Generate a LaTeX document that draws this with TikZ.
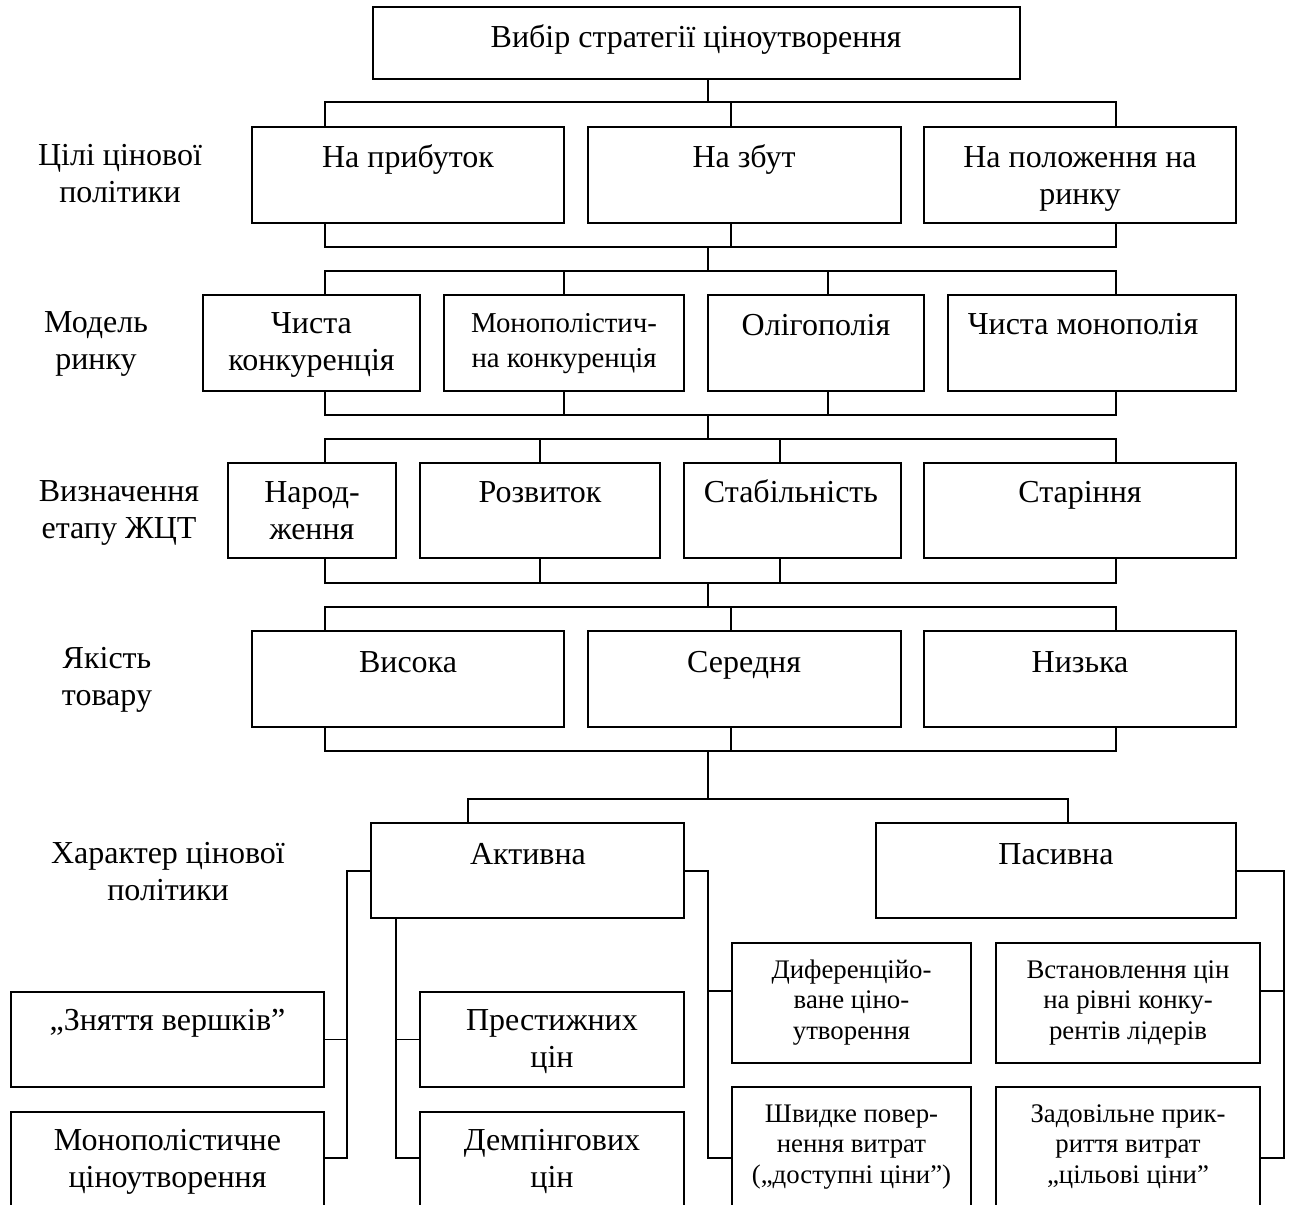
\documentclass[tikz,border=0pt]{standalone}
\usepackage{fontspec}
\setmainfont{Liberation Serif}
\newcommand\mkbox[5]{\node[bx, anchor=north west, minimum width={#4-#2}, minimum height={#5-#3}] (#1) at (#2,-#3) {};}
\tikzset{
  bx/.style={draw, line width=1.8pt, rectangle, inner sep=0pt, outer sep=0pt},
  tx/.style={inner sep=0pt, align=center, anchor=north, font=\fontsize{32}{37.5}\selectfont},
  txm/.style={tx, font=\fontsize{28.8}{35}\selectfont},
  txs/.style={tx, font=\fontsize{26.8}{30.5}\selectfont},
  ln/.style={line width=1.8pt}
}
\begin{document}
\begin{tikzpicture}[x=1pt,y=1pt]
\useasboundingbox (0,0) rectangle (1292,-1204);
% boxes
\mkbox{top}{373}{7}{1020}{79}
\mkbox{g1}{252}{127}{564}{223}
\mkbox{g2}{588}{127}{901}{223}
\mkbox{g3}{924}{127}{1236}{223}
\mkbox{m1}{203}{295}{420}{391}
\mkbox{m2}{444}{295}{684}{391}
\mkbox{m3}{708}{295}{924}{391}
\mkbox{m4}{948}{295}{1236}{391}
\mkbox{s1}{228}{463}{396}{558}
\mkbox{s2}{420}{463}{660}{558}
\mkbox{s3}{684}{463}{901}{558}
\mkbox{s4}{924}{463}{1236}{558}
\mkbox{q1}{252}{631}{564}{727}
\mkbox{q2}{588}{631}{901}{727}
\mkbox{q3}{924}{631}{1236}{727}
\mkbox{act}{371}{823}{684}{918}
\mkbox{pas}{876}{823}{1236}{918}
\mkbox{zn}{11}{992}{324}{1087}
\mkbox{mon}{11}{1112}{324}{1206}
\mkbox{pr}{420}{992}{684}{1087}
\mkbox{dem}{420}{1112}{684}{1206}
\mkbox{dif}{732}{943}{971}{1063}
\mkbox{vst}{996}{943}{1260}{1063}
\mkbox{shv}{732}{1087}{971}{1206}
\mkbox{zad}{996}{1087}{1260}{1206}
% texts
\node[tx] (ttop) at (696,-20.75) {\strut Вибір стратегії ціноутворення};
\node[tx] (tg1) at (408,-140.75) {\strut На прибуток};
\node[tx] (tg2) at (744,-140.75) {\strut На збут};
\node[tx] (tg3) at (1080,-140.75) {\strut На положення на\\ринку};
\node[tx] (tm1) at (311.5,-306.75) {\strut Чиста\\конкуренція};
\node[txm] (tm2) at (564,-307.5) {\strut Монополістич-\\на конкуренція};
\node[tx] (tm3) at (816,-308.75) {\strut Олігополія};
\node[tx] (tm4) at (1083,-307.75) {\strut Чиста монополія};
\node[tx] (ts1) at (312,-475.75) {\strut Народ-\\ження};
\node[tx] (ts2) at (540,-475.75) {\strut Розвиток};
\node[tx] (ts3) at (791,-475.75) {\strut Стабільність};
\node[tx] (ts4) at (1080,-475.75) {\strut Старіння};
\node[tx] (tq1) at (408,-645.75) {\strut Висока};
\node[tx] (tq2) at (744,-645.75) {\strut Середня};
\node[tx] (tq3) at (1080,-645.75) {\strut Низька};
\node[tx] (tact) at (528,-837.75) {\strut Активна};
\node[tx] (tpas) at (1056,-837.75) {\strut Пасивна};
\node[tx] (tzn) at (167.5,-1003.75) {\strut „Зняття вершків”};
\node[tx] (tmon) at (167.5,-1123.75) {\strut Монополістичне\\ціноутворення};
\node[tx] (tpr) at (552,-1003.75) {\strut Престижних\\цін};
\node[tx] (tdem) at (552,-1123.75) {\strut Демпінгових\\цін};
\node[txs] (tdif) at (851.5,-956.65) {\strut Диференційо-\\ване ціно-\\утворення};
\node[txs] (tvst) at (1128,-956.65) {\strut Встановлення цін\\на рівні конку-\\рентів лідерів};
\node[txs] (tshv) at (851.5,-1100.65) {\strut Швидке повер-\\нення витрат\\(„доступні ціни”)};
\node[txs] (tzad) at (1128,-1100.65) {\strut Задовільне прик-\\риття витрат\\„цільові ціни”};
% left labels
\node[tx] (l1) at (120,-138.75) {\strut Цілі цінової\\політики};
\node[tx] (l2) at (96,-305.75) {\strut Модель\\ринку};
\node[tx] (l3) at (119,-474.75) {\strut Визначення\\етапу ЖЦТ};
\node[tx] (l4) at (107,-641.75) {\strut Якість\\товару};
\node[tx] (l5) at (168,-836.75) {\strut Характер цінової\\політики};
% helper coordinates
\coordinate (xA) at (325,0);
\coordinate (xT) at (708,0);
\coordinate (xR) at (1116,0);
\coordinate (xB) at (731,0);
\coordinate (xC) at (564,0);
\coordinate (xD) at (828,0);
\coordinate (xE) at (540,0);
\coordinate (xF) at (780,0);
\coordinate (xG) at (468,0);
\coordinate (xH) at (1068,0);
\coordinate (xI) at (347,0);
\coordinate (xJ) at (396,0);
\coordinate (xK) at (1284,0);
\coordinate (yb) at (0,-871);
\coordinate (yc) at (0,-991);
\coordinate (yq) at (0,-1158);
% level 1
\draw[ln] (top.south -| xT) -- (708,-102);
\draw[ln] (g1.north -| xA) -- (325,-102) -- (1116,-102) -- (g3.north -| xR);
\draw[ln] (g2.north -| xB) -- (731,-102);
\draw[ln] (g1.south -| xA) -- (325,-247) -- (1116,-247) -- (g3.south -| xR);
\draw[ln] (g2.south -| xB) -- (731,-247);
\draw[ln] (708,-247) -- (708,-271);
% level 2
\draw[ln] (m1.north -| xA) -- (325,-271) -- (1116,-271) -- (m4.north -| xR);
\draw[ln] (m2.north -| xC) -- (564,-271);
\draw[ln] (m3.north -| xD) -- (828,-271);
\draw[ln] (m1.south -| xA) -- (325,-415) -- (1116,-415) -- (m4.south -| xR);
\draw[ln] (m2.south -| xC) -- (564,-415);
\draw[ln] (m3.south -| xD) -- (828,-415);
\draw[ln] (708,-415) -- (708,-439);
% level 3
\draw[ln] (s1.north -| xA) -- (325,-439) -- (1116,-439) -- (s4.north -| xR);
\draw[ln] (s2.north -| xE) -- (540,-439);
\draw[ln] (s3.north -| xF) -- (780,-439);
\draw[ln] (s1.south -| xA) -- (325,-583) -- (1116,-583) -- (s4.south -| xR);
\draw[ln] (s2.south -| xE) -- (540,-583);
\draw[ln] (s3.south -| xF) -- (780,-583);
\draw[ln] (708,-583) -- (708,-607);
% level 4
\draw[ln] (q1.north -| xA) -- (325,-607) -- (1116,-607) -- (q3.north -| xR);
\draw[ln] (q2.north -| xB) -- (731,-607);
\draw[ln] (q1.south -| xA) -- (325,-751) -- (1116,-751) -- (q3.south -| xR);
\draw[ln] (q2.south -| xB) -- (731,-751);
\draw[ln] (708,-751) -- (708,-799);
% level 5
\draw[ln] (act.north -| xG) -- (468,-799) -- (1068,-799) -- (pas.north -| xH);
% brackets
\draw[ln] (act.west |- yb) -- (347,-871) -- (347,-1158) -- (mon.east |- yq);
\draw[ln] (347,-1039.5) -- (zn.east);
\draw[ln] (act.south -| xJ) -- (396,-1158) -- (dem.west |- yq);
\draw[ln] (396,-1039.5) -- (pr.west);
\draw[ln] (act.east |- yb) -- (708,-871) -- (708,-1158) -- (shv.west |- yq);
\draw[ln] (708,-991) -- (dif.west |- yc);
\draw[ln] (pas.east |- yb) -- (1284,-871) -- (1284,-1158) -- (zad.east |- yq);
\draw[ln] (1284,-991) -- (vst.east |- yc);
\end{tikzpicture}
\end{document}
